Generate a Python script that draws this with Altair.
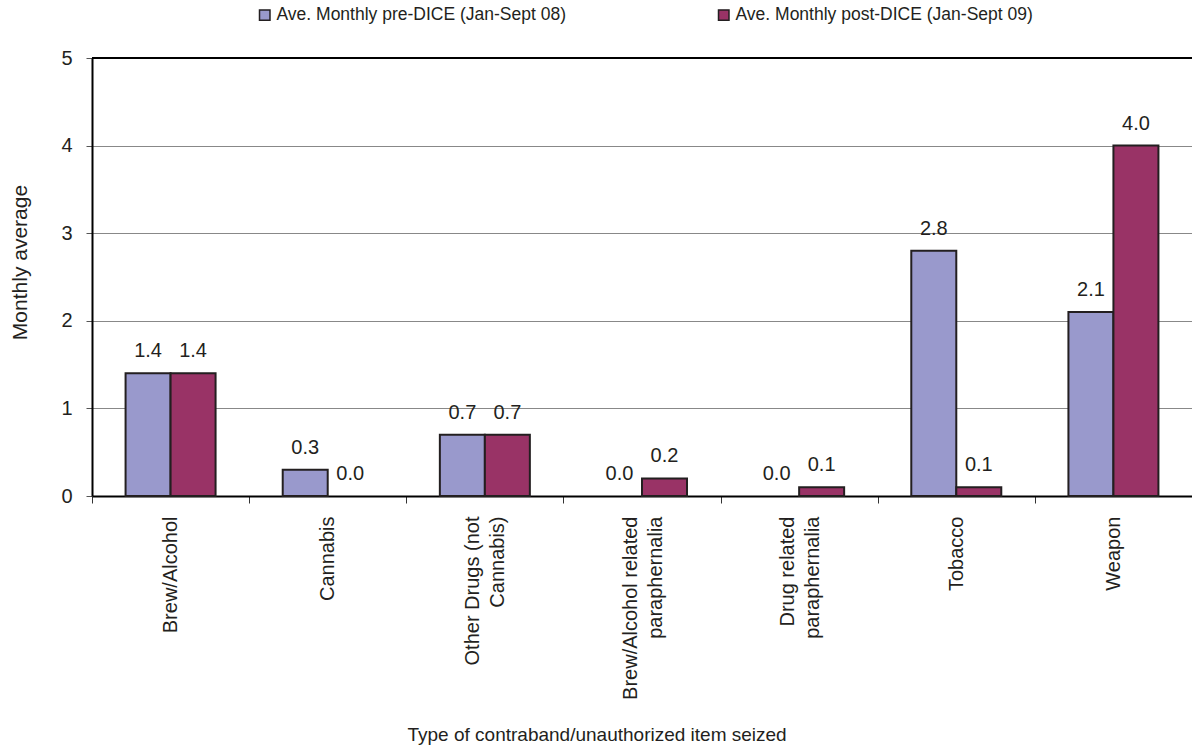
import altair as alt
import pandas as pd

categories = [
    "Brew/Alcohol",
    "Cannabis",
    "Other Drugs (not\nCannabis)",
    "Brew/Alcohol related\nparaphernalia",
    "Drug related\nparaphernalia",
    "Tobacco",
    "Weapon",
]
series_names = [
    "Ave. Monthly pre-DICE (Jan-Sept 08)",
    "Ave. Monthly post-DICE (Jan-Sept 09)",
]
pre_dice = [1.4, 0.3, 0.7, 0.0, 0.0, 2.8, 2.1]
post_dice = [1.4, 0.0, 0.7, 0.2, 0.1, 0.1, 4.0]
colors = ["#9999cc", "#993366"]
y_ticks = [0, 1, 2, 3, 4, 5]

rows = []
for c, a, b in zip(categories, pre_dice, post_dice):
    rows.append({"item": c, "series": series_names[0], "value": a})
    rows.append({"item": c, "series": series_names[1], "value": b})
df = pd.DataFrame(rows)

FONT = "Liberation Sans"
TXT = "#231f20"

x_enc = alt.X(
    "item:N",
    sort=categories,
    scale=alt.Scale(paddingInner=0, paddingOuter=0),
    axis=alt.Axis(
        title="Type of contraband/unauthorized item seized",
        titleFontSize=19,
        titleFontWeight="normal",
        titleColor=TXT,
        titleAlign="left",
        titleBaseline="top",
        titleX=315,
        titleY=229,
        labelAngle=-90,
        labelAlign="right",
        labelBaseline="middle",
        labelFontSize=20,
        labelColor=TXT,
        labelLineHeight=25,
        labelLimit=400,
        labelPadding=13,
        labelOffset={
            "condition": {"test": "indexof(datum.label, '\\n') >= 0", "value": -12},
            "value": 0,
        },
        labelExpr="split(datum.label, '\\n')",
        tickBand="extent",
        tickSize=7,
        tickColor="#333333",
        tickWidth=1,
        domainColor="#000000",
        domainWidth=2,
        grid=False,
    ),
)
xoff_enc = alt.XOffset(
    "series:N",
    sort=series_names,
    scale=alt.Scale(paddingInner=0, paddingOuter=0.746),
)
y_enc = alt.Y(
    "value:Q",
    scale=alt.Scale(domain=[0, 5], nice=False),
    axis=alt.Axis(
        title="Monthly average",
        titleFontSize=21,
        titleFontWeight="normal",
        titleColor=TXT,
        titleX=-72,
        titleY=204,
        titleAngle=-90,
        titleAlign="center",
        titleBaseline="middle",
        values=y_ticks,
        format="d",
        labelFontSize=20,
        labelColor=TXT,
        labelPadding=14,
        tickSize=6,
        tickColor="#555555",
        domainColor="#000000",
        domainWidth=2,
        gridColor="#888888",
        gridWidth=1.2,
    ),
)

bars = (
    alt.Chart(df)
    .mark_bar(stroke="#231f20", strokeWidth=2)
    .encode(
        x=x_enc,
        xOffset=xoff_enc,
        y=y_enc,
        strokeOpacity=alt.condition("datum.value == 0", alt.value(0), alt.value(1)),
        color=alt.Color(
            "series:N",
            sort=series_names,
            scale=alt.Scale(domain=series_names, range=colors),
            legend=alt.Legend(
                title=None,
                orient="none",
                direction="horizontal",
                legendX=164,
                legendY=-52,
                padding=0,
                symbolType="square",
                symbolSize=110,
                symbolStrokeColor="#231f20",
                symbolStrokeWidth=1.5,
                symbolOpacity=1,
                labelFontSize=17.5,
                labelColor=TXT,
                labelOffset=3,
                columnPadding=148,
                labelLimit=500,
            ),
        ),
    )
)

labels = (
    alt.Chart(df)
    .mark_text(baseline="alphabetic", dy=-16, fontSize=20, color=TXT)
    .encode(
        x=alt.X("item:N", sort=categories),
        xOffset=alt.XOffset("series:N", sort=series_names),
        y="value:Q",
        text=alt.Text("value:Q", format=".1f"),
    )
)

top_border = (
    alt.Chart(pd.DataFrame({"v": [y_ticks[-1]]}))
    .mark_rule(color="#000000", strokeWidth=2)
    .encode(y="v:Q")
)

chart = (
    alt.layer(bars, labels, top_border)
    .properties(
        width=1100,
        height=438,
        autosize=alt.AutoSizeParams(type="none"),
        padding={"left": 92, "top": 58, "right": 0, "bottom": 253},
    )
    .configure(font=FONT)
    .configure_view(stroke=None)
)

chart.save("out.html", embed_options={"renderer": "svg", "actions": False})
